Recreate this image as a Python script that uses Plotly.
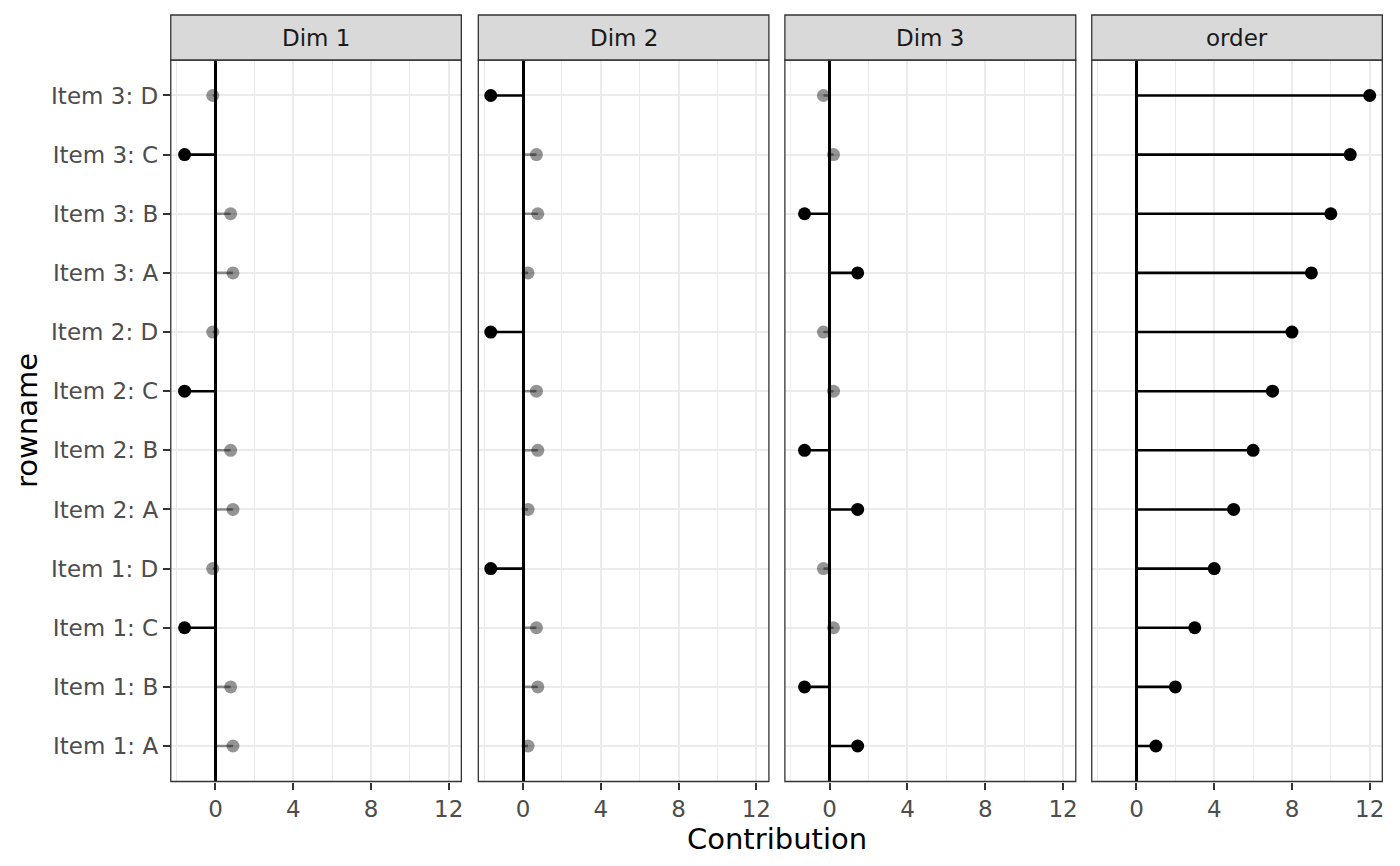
import plotly.graph_objects as go

# data
items = ["Item 1", "Item 2", "Item 3"]
levels = ["A", "B", "C", "D"]
rownames = [f"{i}: {l}" for i in items for l in levels]

dim1 = [0.90, 0.78, -1.59, -0.14]
dim2 = [0.26, 0.76, 0.69, -1.66]
dim3 = [1.44, -1.29, 0.20, -0.32]
order = list(range(1, 13))

panels = {
    "Dim 1": dim1 * 3,
    "Dim 2": dim2 * 3,
    "Dim 3": dim3 * 3,
    "order": order,
}
threshold = 1.0

x_ticks = [0, 4, 8, 12]
x_minor = [-2, 2, 6, 10]
x_range = [-2.3, 12.65]
y_range = [-0.6, 11.6]

# page has an 8px body margin, so the figure is 1392x858
W, H = 1392, 858
domains = [(0.11710, 0.32615), (0.33836, 0.54741), (0.55891, 0.76818), (0.77967, 0.98872)]
y_dom = (0.09848, 0.93939)
strip_y = (0.93939, 0.99184)

FONT = "DejaVu Sans"
fig = go.Figure()
shapes, annotations = [], []

for k, (name, vals) in enumerate(panels.items()):
    ax = "" if k == 0 else str(k + 1)
    strong = [abs(v) >= threshold for v in vals]
    for is_strong, col in [(False, "rgba(0,0,0,0.42)"), (True, "black")]:
        sx, sy, px, py = [], [], [], []
        for r, v, s in zip(rownames, vals, strong):
            if s != is_strong:
                continue
            sx += [0, v, None]
            sy += [r, r, None]
            px.append(v)
            py.append(r)
        if not px:
            continue
        fig.add_trace(go.Scatter(x=sx, y=sy, mode="lines", line=dict(color=col, width=2.6),
                                 xaxis="x" + ax, yaxis="y" + ax, showlegend=False, hoverinfo="skip"))
        fig.add_trace(go.Scatter(x=px, y=py, mode="markers",
                                 marker=dict(color=col, size=13, line=dict(width=0)),
                                 xaxis="x" + ax, yaxis="y" + ax, showlegend=False))

    fig.layout["xaxis" + ax] = dict(
        domain=list(domains[k]), anchor="y" + ax, range=x_range,
        tickvals=x_ticks, ticks="outside", ticklen=7, tickwidth=1.6, tickcolor="#333333",
        tickfont=dict(family=FONT, size=23, color="#4D4D4D"),
        showgrid=True, gridcolor="#EBEBEB", gridwidth=2.2,
        minor=dict(tickvals=x_minor, showgrid=True, gridcolor="#EBEBEB", gridwidth=1.1, ticks=""),
        zeroline=True, zerolinecolor="black", zerolinewidth=2.6,
        showline=False, fixedrange=True,
    )
    fig.layout["yaxis" + ax] = dict(
        domain=list(y_dom), anchor="x" + ax, range=y_range,
        type="category", categoryorder="array", categoryarray=rownames,
        showticklabels=(k == 0), ticks="outside" if k == 0 else "",
        ticklen=7, tickwidth=1.6, tickcolor="#333333",
        tickfont=dict(family=FONT, size=23, color="#4D4D4D"),
        showgrid=True, gridcolor="#EBEBEB", gridwidth=2.2,
        zeroline=False, showline=False, fixedrange=True,
    )
    # panel border
    shapes.append(dict(type="rect", xref="paper", yref="paper",
                       x0=domains[k][0], x1=domains[k][1], y0=y_dom[0], y1=y_dom[1],
                       line=dict(color="#333333", width=1.3), layer="above"))
    # strip
    shapes.append(dict(type="rect", xref="paper", yref="paper",
                       x0=domains[k][0], x1=domains[k][1], y0=strip_y[0], y1=strip_y[1],
                       fillcolor="#D9D9D9", line=dict(color="#333333", width=1.3)))
    annotations.append(dict(text=name, xref="paper", yref="paper",
                            x=(domains[k][0] + domains[k][1]) / 2, y=(strip_y[0] + strip_y[1]) / 2,
                            xanchor="center", yanchor="middle",
                            showarrow=False, font=dict(family=FONT, size=23, color="#1A1A1A")))

annotations.append(dict(text="Contribution", xref="paper", yref="paper", x=0.5532, y=0.032,
                        xanchor="center", yanchor="middle",
                        showarrow=False, font=dict(family=FONT, size=29, color="black")))
annotations.append(dict(text="rowname", xref="paper", yref="paper", x=0.01365, y=0.5198, textangle=-90,
                        xanchor="center", yanchor="middle",
                        showarrow=False, font=dict(family=FONT, size=29, color="black")))

fig.update_layout(
    width=W, height=H,
    margin=dict(l=0, r=0, t=0, b=0),
    paper_bgcolor="white", plot_bgcolor="white",
    shapes=shapes, annotations=annotations,
    showlegend=False,
)

fig.write_html("out.html")
